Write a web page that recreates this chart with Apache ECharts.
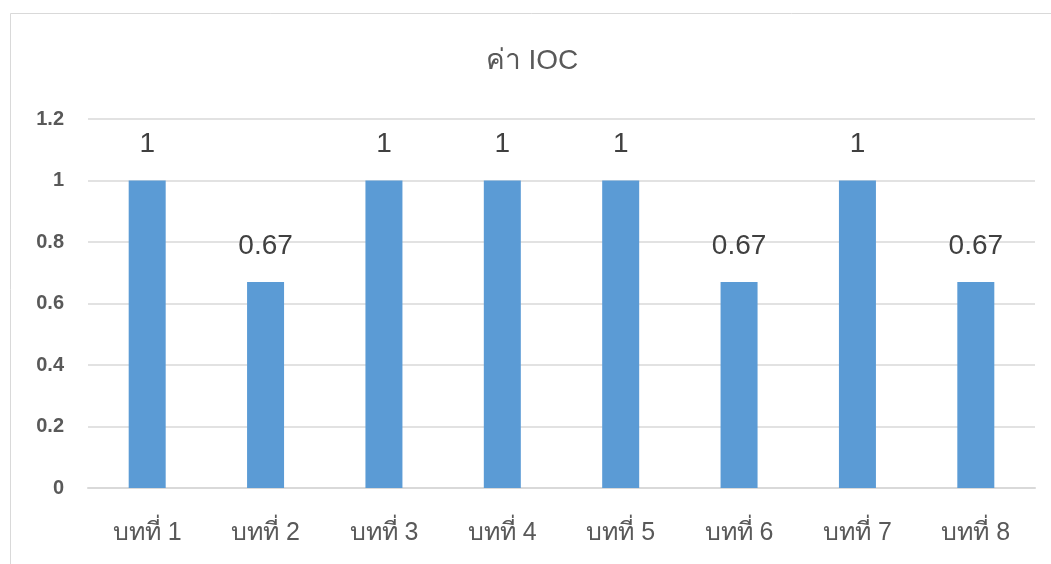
<!DOCTYPE html>
<html><head><meta charset="utf-8">
<script src="https://cdn.jsdelivr.net/npm/echarts@6/dist/echarts.min.js"></script>
<style>html,body{margin:0;padding:0;background:#fff}#c{width:1051px;height:564px}</style>
</head><body><div id="c"></div>
<script>
const categories = ['บทที่ 1','บทที่ 2','บทที่ 3','บทที่ 4','บทที่ 5','บทที่ 6','บทที่ 7','บทที่ 8'];
const iocValues = [1, 0.67, 1, 1, 1, 0.67, 1, 0.67];
const titleText = 'ค่า IOC';
const FONT = 'Arial, "Liberation Sans", "Noto Sans", sans-serif';
const chart = echarts.init(document.getElementById('c'), null, {renderer:'canvas'});
chart.setOption({
  animation:false,
  backgroundColor:'#fff',
  graphic:[{type:'rect',shape:{x:10.5,y:13.5,width:1100,height:600},style:{fill:'none',stroke:'#d9d9d9',lineWidth:1}}],
  title:{text:titleText,left:527,top:42,textAlign:'center',textStyle:{fontFamily:FONT,fontSize:28,fontWeight:'normal',color:'#595959'}},
  grid:{left:88,right:16,top:119,bottom:76},
  xAxis:{type:'category',data:categories,axisTick:{show:false},
    axisLine:{lineStyle:{color:'#d9d9d9',width:2}},
    axisLabel:{fontFamily:FONT,fontSize:25,color:'#595959',margin:33}},
  yAxis:{type:'value',min:0,max:1.2,interval:0.2,
    axisLine:{show:false},axisTick:{show:false},
    splitLine:{lineStyle:{color:'#d9d9d9',width:1.5}},
    axisLabel:{fontFamily:FONT,fontSize:20,fontWeight:'bold',color:'#595959',margin:24,
      formatter:v=>String(Math.round(v*10)/10)}},
  series:[{type:'bar',data:iocValues,barWidth:37,itemStyle:{color:'#5b9bd5'},
    label:{show:true,position:'top',distance:22,fontFamily:FONT,fontSize:28,color:'#404040'}}]
});
</script></body></html>
